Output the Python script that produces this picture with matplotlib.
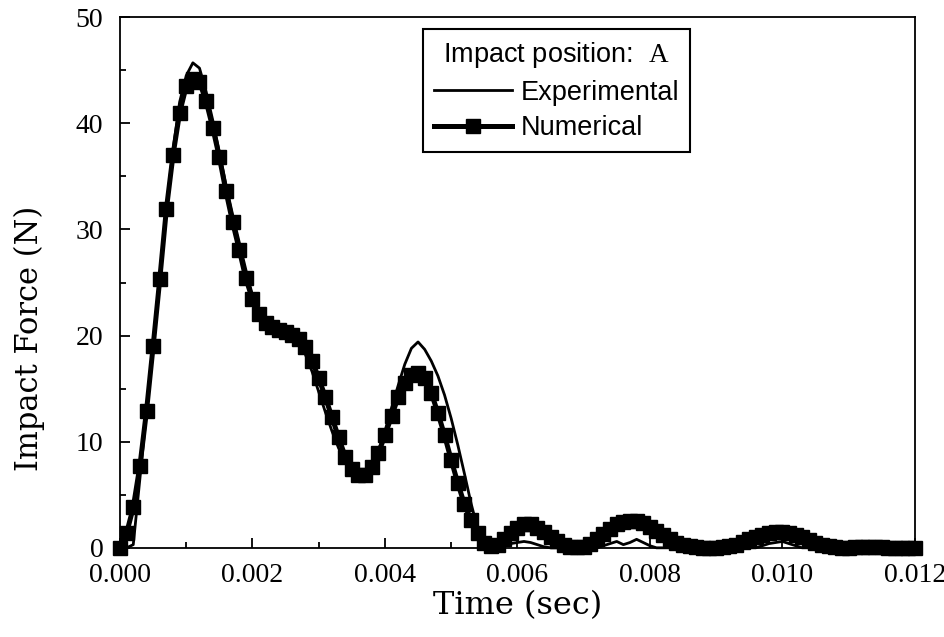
import numpy as np
import matplotlib
matplotlib.use("Agg")
import matplotlib.pyplot as plt
from matplotlib.ticker import MultipleLocator, FormatStrFormatter

# sample times: one sample every 0.1 ms from 0 to 12 ms
time = np.linspace(0.0, 0.012, 121)

# numerical impact force (N) with square markers
numerical = [
    0.0, 1.4, 3.8, 7.7, 12.9, 19.0, 25.3, 31.9, 37.0, 41.0,
    43.5, 44.2, 43.9, 42.1, 39.6, 36.8, 33.6, 30.7, 28.1, 25.4,
    23.4, 22.0, 21.2, 20.8, 20.5, 20.3, 20.1, 19.7, 18.9, 17.6,
    16.0, 14.2, 12.3, 10.4, 8.6, 7.4, 6.9, 6.9, 7.6, 8.9,
    10.6, 12.4, 14.2, 15.5, 16.3, 16.5, 16.0, 14.6, 12.7, 10.6,
    8.3, 6.1, 4.1, 2.6, 1.4, 0.5, 0.15, 0.3, 0.8, 1.4,
    1.9, 2.2, 2.2, 1.9, 1.5, 1.0, 0.6, 0.3, 0.1, 0.05,
    0.1, 0.4, 0.8, 1.3, 1.8, 2.2, 2.4, 2.5, 2.5, 2.3,
    2.0, 1.6, 1.2, 0.8, 0.5, 0.3, 0.15, 0.05, 0.0, 0.0,
    0.0, 0.05, 0.15, 0.3, 0.55, 0.8, 1.05, 1.25, 1.4, 1.5,
    1.5, 1.4, 1.2, 1.0, 0.75, 0.5, 0.3, 0.15, 0.05, 0.0,
    0.0, 0.05, 0.1, 0.1, 0.1, 0.05, 0.0, 0.0, 0.0, 0.0,
    0.0,
]

# experimental impact force (N), plain line
experimental = [
    0.0, 0.0, 0.3, 6.5, 12.8, 19.2, 25.6, 32.0, 37.5, 42.0,
    44.5, 45.7, 45.2, 43.0, 40.3, 37.3, 34.2, 31.4, 28.8, 26.2,
    23.8, 22.2, 21.2, 20.7, 20.4, 20.2, 19.9, 19.3, 18.2, 16.6,
    14.7, 12.8, 11.0, 9.4, 8.1, 7.3, 7.0, 7.2, 7.9, 9.1,
    11.0, 13.2, 15.3, 17.3, 18.8, 19.4, 18.7, 17.6, 16.2, 14.4,
    12.2, 9.7, 7.0, 4.2, 1.8, 0.5, 0.0, 0.1, 0.2, 0.4,
    0.5, 0.6, 0.5, 0.3, 0.1, 0.0, 0.0, 0.0, 0.0, 0.0,
    0.0, 0.0, 0.0, 0.2, 0.4, 0.6, 0.3, 0.5, 0.8, 0.5,
    0.2, 0.0, 0.0, 0.0, 0.0, 0.0, 0.0, 0.0, 0.0, 0.0,
    0.0, 0.0, 0.0, 0.0, 0.0, 0.0, 0.0, 0.2, 0.4, 0.5,
    0.6, 0.4, 0.2, 0.0, 0.0, 0.0, 0.0, 0.0, 0.0, 0.0,
    0.0, 0.0, 0.0, 0.0, 0.0, 0.0, 0.0, 0.0, 0.0, 0.0,
    0.0,
]

plt.rcParams["mathtext.fontset"] = "custom"
plt.rcParams["mathtext.rm"] = "Liberation Serif"

fig = plt.figure(figsize=(9.45, 6.37), dpi=100)
ax = fig.add_axes([0.127, 0.140, 0.841, 0.833])

ax.plot(time, numerical, color="black", linewidth=3.6, marker="s",
        markersize=10.5, label="Numerical", clip_on=False, zorder=3)
ax.plot(time, experimental, color="black", linewidth=2.0,
        label="Experimental", clip_on=False, zorder=4)

ax.set_xlim(0, 0.012)
ax.set_ylim(0, 50)
ax.xaxis.set_major_locator(MultipleLocator(0.002))
ax.xaxis.set_minor_locator(MultipleLocator(0.001))
ax.xaxis.set_major_formatter(FormatStrFormatter("%.3f"))
ax.yaxis.set_major_locator(MultipleLocator(10))
ax.yaxis.set_minor_locator(MultipleLocator(5))
ax.tick_params(which="both", direction="in", top=False, right=False, width=1.3)
ax.tick_params(which="major", length=7)
ax.tick_params(which="minor", length=4)
ax.tick_params(axis="x", pad=11)
ax.tick_params(axis="y", pad=12)
for lab in ax.get_xticklabels() + ax.get_yticklabels():
    lab.set_fontfamily("Liberation Serif")
    lab.set_fontsize(20)
for sp in ax.spines.values():
    sp.set_linewidth(1.3)

ax.set_xlabel("Time (sec)", family="DejaVu Serif", fontsize=23)
ax.xaxis.set_label_coords(0.5, -0.08)
ax.set_ylabel("Impact Force (N)", family="DejaVu Serif", fontsize=22)
ax.yaxis.set_label_coords(-0.094, 0.395)

h, l = ax.get_legend_handles_labels()
leg = ax.legend([h[1], h[0]], [l[1], l[0]], loc="upper left",
                bbox_to_anchor=(0.381, 0.977), numpoints=1,
                title="Impact position:  $\\mathrm{A}$",
                prop={"family": "Liberation Sans", "size": 19.5},
                title_fontproperties={"family": "Liberation Sans", "size": 19.5},
                fancybox=False, framealpha=1, edgecolor="black",
                handlelength=2.9, handletextpad=0.3, labelspacing=0.35,
                borderpad=0.4, borderaxespad=0)
leg.get_frame().set_linewidth(1.5)

fig.savefig("out.png", dpi=100)
